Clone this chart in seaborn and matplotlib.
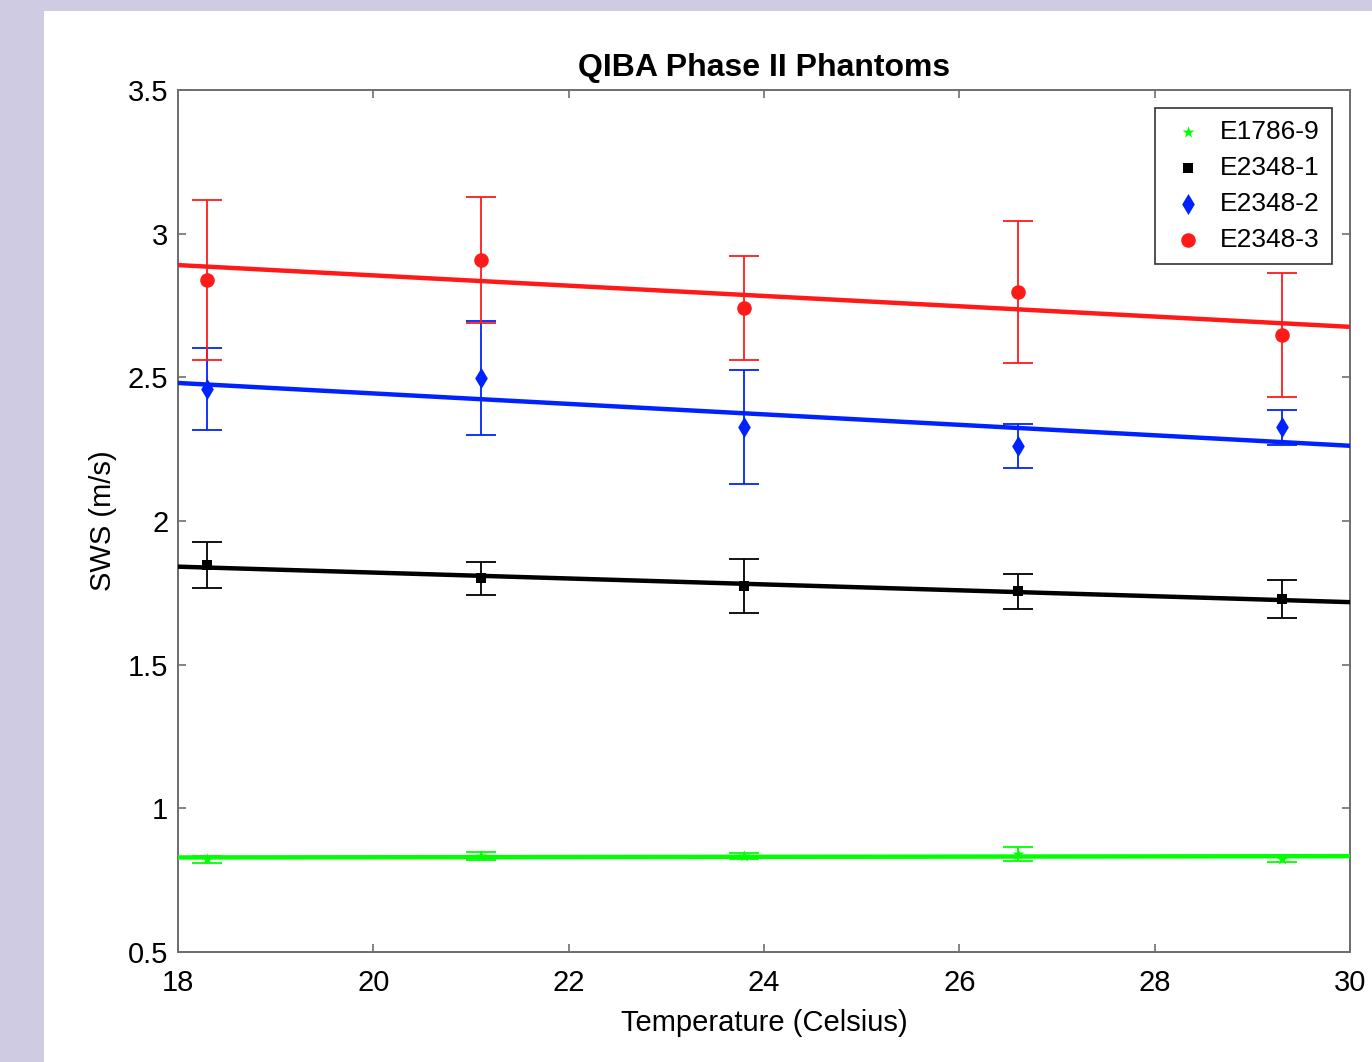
import numpy as np
import pandas as pd
import matplotlib
matplotlib.use('Agg')
import matplotlib.pyplot as plt
from matplotlib.patches import Rectangle
import seaborn as sns

# Data
temps = [18.3, 21.1, 23.8, 26.6, 29.3]
phantoms = ['E1786-9', 'E2348-1', 'E2348-2', 'E2348-3']
sws_e1786_9 = [0.823, 0.834, 0.834, 0.840, 0.825]
err_e1786_9 = [0.012, 0.014, 0.012, 0.024, 0.012]
sws_e2348_1 = [1.847, 1.801, 1.774, 1.756, 1.728]
err_e2348_1 = [0.080, 0.058, 0.094, 0.061, 0.066]
sws_e2348_2 = [2.459, 2.498, 2.327, 2.261, 2.327]
err_e2348_2 = [0.143, 0.197, 0.197, 0.078, 0.061]
sws_e2348_3 = [2.839, 2.908, 2.741, 2.797, 2.647]
err_e2348_3 = [0.279, 0.219, 0.180, 0.248, 0.216]

sws = [sws_e1786_9, sws_e2348_1, sws_e2348_2, sws_e2348_3]
errs = [err_e1786_9, err_e2348_1, err_e2348_2, err_e2348_3]
colors = ['#00ff00', '#000000', '#0022ff', '#ff1a1a']
markers = ['*', 's', 'd', 'o']
sizes = [80, 45, 115, 110]

df = pd.DataFrame({
    'Temperature': np.tile(temps, len(phantoms)),
    'SWS': np.concatenate(sws),
    'Phantom': np.repeat(phantoms, len(temps)),
})

sns.set_theme(style="white")
plt.rcParams['font.family'] = ['Liberation Sans', 'DejaVu Sans']
plt.rcParams['text.color'] = 'black'

fig = plt.figure(figsize=(13.72, 10.62), dpi=100, facecolor='#cfcbe3')
fig.patches.append(Rectangle((44 / 1372, 0), 1, 1 - 11 / 1062, transform=fig.transFigure,
                             facecolor='white', edgecolor='none', zorder=-1))
ax = fig.add_axes([178 / 1372, 1 - 952 / 1062, (1350 - 178) / 1372, (952 - 90) / 1062])
ax.set_facecolor('white')
ax.set_xlim(18, 30)
ax.set_ylim(0.5, 3.5)

# Error bars
for vals, err, c in zip(sws, errs, colors):
    ax.errorbar(temps, vals, yerr=err, fmt='none', ecolor=c, elinewidth=1.3,
                capsize=10.5, capthick=1.3, zorder=2)

# Linear fits across the full axis range
for vals, c in zip(sws, colors):
    sns.regplot(x=temps, y=vals, scatter=False, ci=None, truncate=False,
                color=c, line_kws=dict(lw=3.2, zorder=3), ax=ax)

# Points
for name, c, m, s in zip(phantoms, colors, markers, sizes):
    sub = df[df['Phantom'] == name]
    sns.scatterplot(data=sub, x='Temperature', y='SWS', color=c, marker=m, s=s,
                    edgecolor=c, linewidth=0, label=name, zorder=4, ax=ax)

ax.set_xlim(18, 30)
ax.set_ylim(0.5, 3.5)
ax.set_xticks(np.arange(18, 31, 2))
ax.set_yticks(np.arange(0.5, 3.51, 0.5))
ax.set_yticklabels(['0.5', '1', '1.5', '2', '2.5', '3', '3.5'])

spine_c = '#6e6e6e'
for sp in ax.spines.values():
    sp.set_color(spine_c)
    sp.set_linewidth(1.4)
ax.tick_params(direction='in', length=6, width=1.2, color=spine_c, labelsize=21,
               labelcolor='black', top=True, right=True, bottom=True, left=True)
ax.tick_params(axis='x', pad=12)
ax.tick_params(axis='y', pad=7)

ax.set_title('QIBA Phase II Phantoms', fontsize=23, fontweight='bold', pad=10, color='black')
ax.set_xlabel('Temperature (Celsius)', fontsize=21, labelpad=9, color='black')
ax.set_ylabel('SWS (m/s)', fontsize=21, labelpad=8, color='black')

handles, labels = ax.get_legend_handles_labels()
leg = ax.legend(handles, labels, loc='upper right', fontsize=19, frameon=True,
                fancybox=False, edgecolor='#333333', framealpha=1,
                borderaxespad=0.7, handletextpad=0.4, labelspacing=0.45,
                borderpad=0.45, handlelength=1.6)
leg.get_frame().set_linewidth(1.2)

fig.savefig('out.png', dpi=100, facecolor=fig.get_facecolor())
